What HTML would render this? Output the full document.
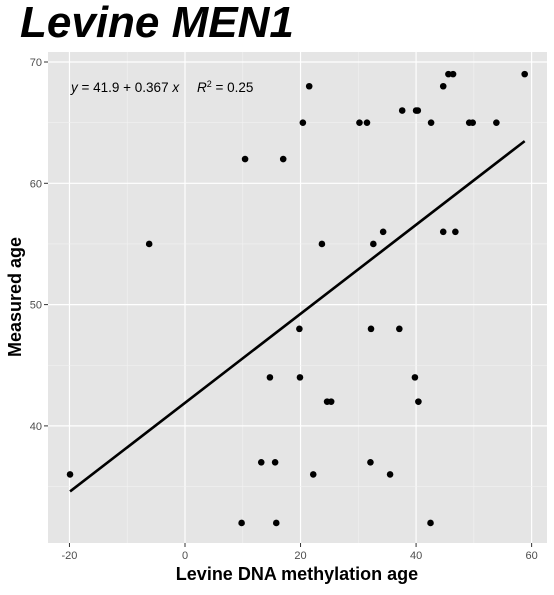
<!DOCTYPE html>
<html><head><meta charset="utf-8"><style>
body{margin:0;background:#fff;font-family:"Liberation Sans",sans-serif}
</style></head><body>
<svg width="554" height="590" xmlns="http://www.w3.org/2000/svg">
<text x="20" y="37" font-size="44" font-weight="bold" font-style="italic" font-family="Liberation Sans, sans-serif">Levine MEN1</text>
<rect x="48" y="52" width="499" height="491" fill="#e5e5e5"/>
<g id="grid"></g>
<g id="axes"></g>
<line id="fit" stroke="#000" stroke-width="2.6"/>
<g id="pts"></g>
<text y="92" font-size="13.5" font-family="Liberation Sans, sans-serif"><tspan x="71" font-style="italic">y</tspan><tspan> = 41.9 + 0.367 </tspan><tspan font-style="italic">x</tspan><tspan x="197" font-style="italic">R</tspan><tspan dy="-5" font-size="9">2</tspan><tspan dy="5"> = 0.25</tspan></text>
<text x="297" y="580" font-size="18" font-weight="bold" text-anchor="middle">Levine DNA methylation age</text>
<text transform="translate(21,297) rotate(-90)" font-size="18" font-weight="bold" text-anchor="middle">Measured age</text>
</svg>
<script>
const xVals=[-19.9,-6.2,10.4,17,21.5,20.4,9.8,15.8,42.5,13.2,15.6,32.1,22.2,35.5,14.7,19.9,39.8,24.6,25.3,40.4,19.8,32.2,37.1,23.7,32.6,34.3,44.7,46.8,30.2,31.5,37.6,40.0,40.3,42.6,44.7,45.6,46.4,49.2,49.8,53.9,58.8];
const yVals=[36,55,62,62,68,65,32,32,32,37,37,37,36,36,44,44,44,42,42,42,48,48,48,55,55,56,56,56,65,65,66,66,66,65,68,69,69,65,65,65,69];
const xTicks=[-20,0,20,40,60];
const yTicks=[40,50,60,70];
const intercept=41.9, slope=0.367;
const NS="http://www.w3.org/2000/svg";
const X=v=>185+v*5.777, Y=v=>62+(70-v)*12.13;
const grid=document.getElementById('grid'), axes=document.getElementById('axes');
function mk(tag,attrs,parent){const e=document.createElementNS(NS,tag);for(const k in attrs)e.setAttribute(k,attrs[k]);parent.appendChild(e);return e;}
xTicks.forEach((t,i)=>{
  if(i<xTicks.length-1){const m=mk('line',{x1:X(t+10),x2:X(t+10),y1:52,y2:543,stroke:'#f2f2f2','stroke-width':0.6},grid);
  
  }
  const g=mk('line',{x1:X(t),x2:X(t),y1:52,y2:543,stroke:'#fff','stroke-width':1.2},grid);
  
  
  const tk=mk('line',{x1:X(t),x2:X(t),y1:543,y2:547,stroke:'#333'},axes);
  
  
  const l=mk('text',{x:X(t),y:559,'font-size':11,fill:'#4d4d4d','text-anchor':'middle'},axes);
  l.textContent=t;
  
  
});
[35,45,55,65].forEach(t=>{const m=mk('line',{x1:48,x2:547,y1:Y(t),y2:Y(t),stroke:'#f2f2f2','stroke-width':0.6},grid);
  
  });
yTicks.forEach(t=>{
  const g=mk('line',{x1:48,x2:547,y1:Y(t),y2:Y(t),stroke:'#fff','stroke-width':1.2},grid);
  
  
  const tk=mk('line',{x1:44,x2:48,y1:Y(t),y2:Y(t),stroke:'#333'},axes);
  
  
  const l=mk('text',{x:42,y:Y(t)+4,'font-size':11,fill:'#4d4d4d','text-anchor':'end'},axes);
  l.textContent=t;
  
  
});
const xmin=Math.min(...xVals), xmax=Math.max(...xVals);
const f=document.getElementById('fit');
f.setAttribute('x1',X(xmin));f.setAttribute('y1',Y(intercept+slope*xmin));
f.setAttribute('x2',X(xmax));f.setAttribute('y2',Y(intercept+slope*xmax));
const pts=document.getElementById('pts');
xVals.forEach((x,i)=>{
  const c=mk('circle',{cx:X(x),cy:Y(yVals[i]),r:3.3,fill:'#000'},pts);
  
  
});
</script>
</body></html>
